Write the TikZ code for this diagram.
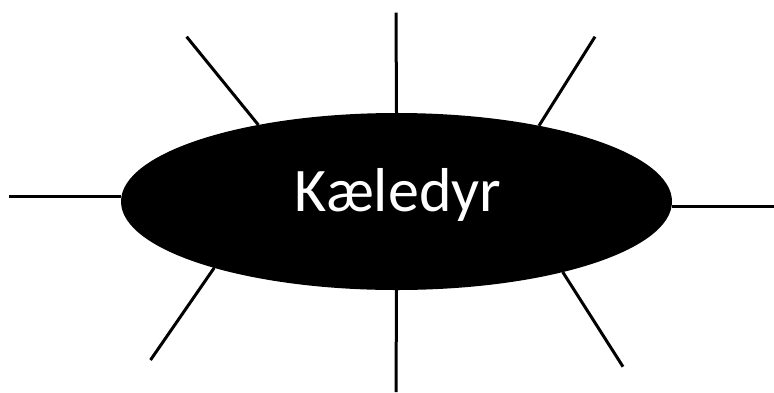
\documentclass[tikz,border=0pt]{standalone}
\usepackage{fontspec}
\setmainfont{Carlito}
\usetikzlibrary{shapes.geometric}

\begin{document}
\begin{tikzpicture}[
	x=1pt, y=-1pt,
	petnode/.style = {
		ellipse, fill=black, draw=none, inner sep=0pt,
		minimum width=551pt, minimum height=177pt, outer sep=0pt},
	petlabel/.style = {
		text=white, anchor=base, inner sep=0pt,
		font=\fontsize{62}{74}\selectfont},
	spoke/.style = {line width=3pt, black}
]
\useasboundingbox (0,0) rectangle (774,392);

\node (pet) [petnode] at (396.5,201.5) {};
\node (txt) [petlabel] at (398,211.7) {Kæledyr};

\coordinate (ul) at (186.6,36.7);
\coordinate (t)  at (396,12.7);
\coordinate (ur) at (595,36.7);
\coordinate (l)  at (8.9,196.7);
\coordinate (r)  at (774,206.7);
\coordinate (ll) at (150.5,360);
\coordinate (b)  at (396,392);
\coordinate (lr) at (623,366.7);

\draw[spoke] (ul) -- (pet.151.6);
\draw[spoke] (t)  -- (pet.90);
\draw[spoke] (ur) -- (pet.28.7);
\draw[spoke] (l)  -- (l -| pet.west);
\draw[spoke] (r)  -- (r -| pet.east);
\draw[spoke] (ll) -- (pet.200.9);
\draw[spoke] (b)  -- (pet.270);
\draw[spoke] (lr) -- (pet.337.6);
\end{tikzpicture}
\end{document}
